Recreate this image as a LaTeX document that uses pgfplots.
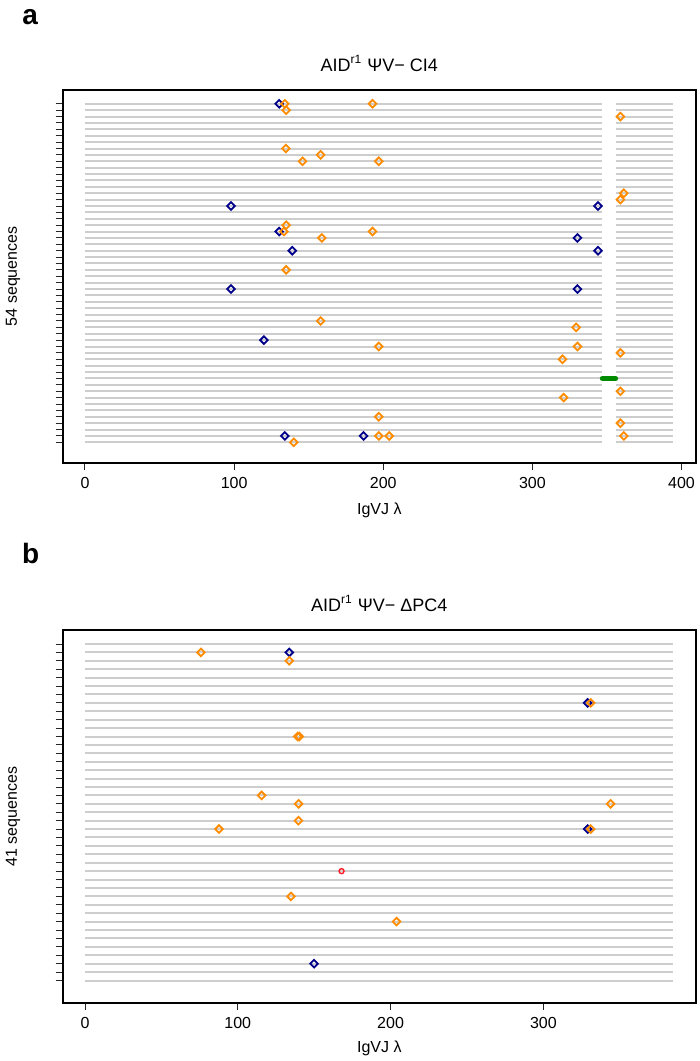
\documentclass[border=0pt]{standalone}
\usepackage{fontspec}
\setmainfont{Liberation Sans}
\usepackage{pgfplots}
\pgfplotsset{compat=1.18}
\definecolor{seqgray}{RGB}{205,205,205}
\definecolor{mutorange}{RGB}{255,140,0}
\definecolor{mutblue}{RGB}{0,0,139}
\definecolor{insgreen}{RGB}{0,139,0}
\definecolor{mutred}{RGB}{255,30,40}
\pgfplotsset{
  seqaxis/.style={
    scale only axis, width=316.65pt, height=186.25pt,
    axis line style={black, line width=1pt},
    tick align=outside, major tick length=3.5pt,
    xtick pos=left, ytick pos=left,
    tick style={black!85, line width=0.5pt},
    yticklabels={},
    /pgf/number format/assume math mode=true,
    ticklabel style={font=\fontsize{8}{9.6}\selectfont},
    xticklabel style={anchor=base, yshift=-9.6pt},
    label style={font=\fontsize{8}{9.6}\selectfont},
    title style={font=\fontsize{9}{10.8}\selectfont, anchor=base, yshift=-6pt, at={(axis description cs:0.5,1.051)}},
    clip=false,
  },
  seqline/.style={xcomb, seqgray, line width=1pt, mark=none},
  dmark/.style={only marks, mark=square, mark size=1.35pt, mark options={rotate=45, line width=0.9pt, fill=none, solid}},
}
\begin{document}
\begin{tikzpicture}
\useasboundingbox (0,0) rectangle (350pt,-530.5pt);
% ---------------- panel a ----------------
\begin{axis}[seqaxis,
  at={(31.35pt,-231.25pt)}, anchor=south west,
  xmin=-14.95, xmax=409.7, ymin=-2.16, ymax=56.16,
  xtick={0,100,200,300,400}, ytick={1,...,54},
  title={AID\textsuperscript{r1} ΨV− CI4},
  xlabel={IgVJ λ}, xlabel style={at={(axis description cs:0.5,-0.1275)}, anchor=center},
  ylabel={54 sequences}, ylabel style={at={(axis description cs:-0.0785,0.5)}, anchor=center},
]
\addplot[seqline] coordinates {
(346.7,1)(346.7,2)(346.7,3)(346.7,4)(346.7,5)(346.7,6)(346.7,7)(346.7,8)(346.7,9)(346.7,10)
(346.7,11)(346.7,12)(346.7,13)(346.7,14)(346.7,15)(346.7,16)(346.7,17)(346.7,18)(346.7,19)(346.7,20)
(346.7,21)(346.7,22)(346.7,23)(346.7,24)(346.7,25)(346.7,26)(346.7,27)(346.7,28)(346.7,29)(346.7,30)
(346.7,31)(346.7,32)(346.7,33)(346.7,34)(346.7,35)(346.7,36)(346.7,37)(346.7,38)(346.7,39)(346.7,40)
(346.7,41)(346.7,42)(346.7,43)(346.7,44)(346.7,45)(346.7,46)(346.7,47)(346.7,48)(346.7,49)(346.7,50)
(346.7,51)(346.7,52)(346.7,53)(346.7,54)};
\addplot[draw=none, mark=none, error bars/.cd, x dir=both, x explicit, error mark=none,
  error bar style={draw=seqgray, line width=1pt}] coordinates {
(375,1)+-(19,0) (375,2)+-(19,0) (375,3)+-(19,0) (375,4)+-(19,0) (375,5)+-(19,0)
(375,6)+-(19,0) (375,7)+-(19,0) (375,8)+-(19,0) (375,9)+-(19,0) (375,10)+-(19,0)
(375,11)+-(19,0) (375,12)+-(19,0) (375,13)+-(19,0) (375,14)+-(19,0) (375,15)+-(19,0)
(375,16)+-(19,0) (375,17)+-(19,0) (375,18)+-(19,0) (375,19)+-(19,0) (375,20)+-(19,0)
(375,21)+-(19,0) (375,22)+-(19,0) (375,23)+-(19,0) (375,24)+-(19,0) (375,25)+-(19,0)
(375,26)+-(19,0) (375,27)+-(19,0) (375,28)+-(19,0) (375,29)+-(19,0) (375,30)+-(19,0)
(375,31)+-(19,0) (375,32)+-(19,0) (375,33)+-(19,0) (375,34)+-(19,0) (375,35)+-(19,0)
(375,36)+-(19,0) (375,37)+-(19,0) (375,38)+-(19,0) (375,39)+-(19,0) (375,40)+-(19,0)
(375,41)+-(19,0) (375,42)+-(19,0) (375,43)+-(19,0) (375,44)+-(19,0) (375,45)+-(19,0)
(375,46)+-(19,0) (375,47)+-(19,0) (375,48)+-(19,0) (375,49)+-(19,0) (375,50)+-(19,0)
(375,51)+-(19,0) (375,52)+-(19,0) (375,53)+-(19,0) (375,54)+-(19,0)};
\addplot[insgreen, line width=2.7pt, line cap=round] coordinates {(347,11) (355.7,11)};
\addplot[dmark, mutblue] coordinates {
(130.2,54) (97.9,38) (344,38) (130.2,34) (330.2,33) (139,31) (344,31)
(97.9,25) (330.2,25) (120,17) (134,2) (186.8,2)};
\addplot[dmark, mutorange] coordinates {
(134,54) (192.8,54) (134.9,53) (359,52) (134.7,47) (158,46) (145.9,45) (197,45)
(361.3,40) (359,39) (134.9,35) (133.4,34) (192.8,34) (158.8,33) (134.9,28) (158,20)
(329.3,19) (197,16) (330.2,16) (359,15) (320.2,14) (359,9) (321,8) (197,5) (359,4)
(197,2) (204,2) (361.3,2) (140,1)};
\end{axis}
% ---------------- panel b ----------------
\begin{axis}[seqaxis,
  at={(31.35pt,-501.35pt)}, anchor=south west,
  xmin=-14.6, xmax=399.9, ymin=-1.64, ymax=42.64,
  xtick={0,100,200,300}, ytick={1,...,41},
  title={AID\textsuperscript{r1} ΨV− ΔPC4},
  xlabel={IgVJ λ}, xlabel style={at={(axis description cs:0.5,-0.1216)}, anchor=center},
  ylabel={41 sequences}, ylabel style={at={(axis description cs:-0.0785,0.5)}, anchor=center},
]
\addplot[seqline] coordinates {
(384.8,1)(384.8,2)(384.8,3)(384.8,4)(384.8,5)(384.8,6)(384.8,7)(384.8,8)(384.8,9)(384.8,10)
(384.8,11)(384.8,12)(384.8,13)(384.8,14)(384.8,15)(384.8,16)(384.8,17)(384.8,18)(384.8,19)(384.8,20)
(384.8,21)(384.8,22)(384.8,23)(384.8,24)(384.8,25)(384.8,26)(384.8,27)(384.8,28)(384.8,29)(384.8,30)
(384.8,31)(384.8,32)(384.8,33)(384.8,34)(384.8,35)(384.8,36)(384.8,37)(384.8,38)(384.8,39)(384.8,40)
(384.8,41)};
\addplot[dmark, mutblue] coordinates {(133.7,40) (329,34) (329,19) (149.9,3)};
\addplot[dmark, mutorange] coordinates {
(75.9,40) (133.7,39) (331,34) (139.2,30) (140.2,30) (115.6,23) (139.8,22) (344,22)
(139.7,20) (87.7,19) (331,19) (134.8,11) (203.9,8)};
\addplot[only marks, mark=o, mark size=1.25pt, mutred, mark options={line width=0.7pt}] coordinates {(167.9,14)};
\end{axis}
\node[anchor=base west, inner sep=0pt, font=\fontsize{14}{16}\selectfont\bfseries] at (11pt,-12pt) {a};
\node[anchor=base west, inner sep=0pt, font=\fontsize{14}{16}\selectfont\bfseries] at (10.85pt,-281.65pt) {b};
\end{tikzpicture}
\end{document}
